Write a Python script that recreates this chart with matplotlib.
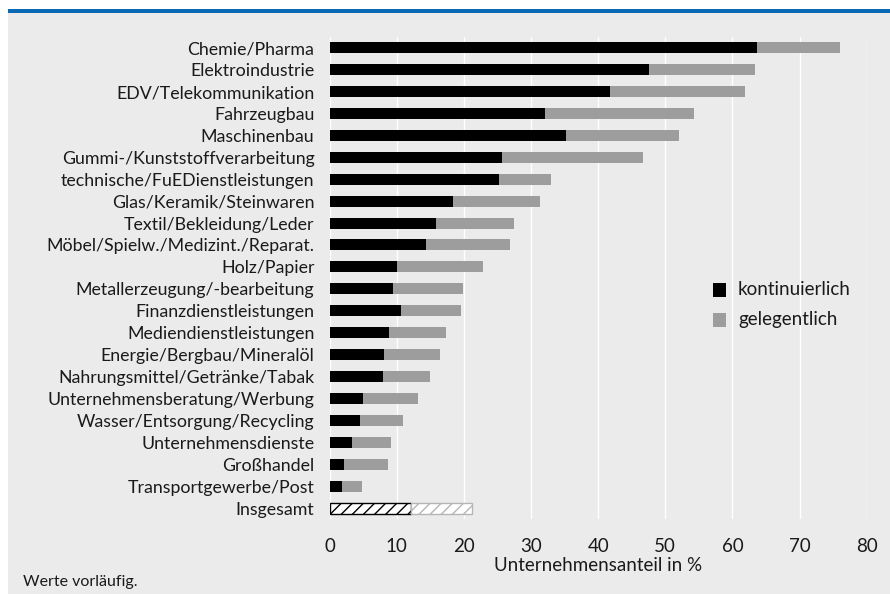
import matplotlib
matplotlib.use("Agg")
import matplotlib.pyplot as plt
import numpy as np
from matplotlib.patches import Rectangle

plt.rcParams['font.family'] = ['Lato', 'DejaVu Sans']
plt.rcParams['hatch.linewidth'] = 1.0

# Branchen (von oben nach unten)
categories = [
    "Chemie/Pharma", "Elektroindustrie", "EDV/Telekommunikation", "Fahrzeugbau",
    "Maschinenbau", "Gummi-/Kunststoffverarbeitung", "technische/FuEDienstleistungen",
    "Glas/Keramik/Steinwaren", "Textil/Bekleidung/Leder",
    "Möbel/Spielw./Medizint./Reparat.", "Holz/Papier", "Metallerzeugung/-bearbeitung",
    "Finanzdienstleistungen", "Mediendienstleistungen", "Energie/Bergbau/Mineralöl",
    "Nahrungsmittel/Getränke/Tabak", "Unternehmensberatung/Werbung",
    "Wasser/Entsorgung/Recycling", "Unternehmensdienste", "Großhandel",
    "Transportgewerbe/Post", "Insgesamt",
]
kontinuierlich = [63.6, 47.5, 41.8, 32.1, 35.2, 25.6, 25.2, 18.3, 15.8, 14.4, 10.1,
                  9.5, 10.6, 8.9, 8.1, 7.9, 4.9, 4.5, 3.3, 2.1, 1.8, 12.1]
gelegentlich = [12.4, 15.8, 20.1, 22.1, 16.8, 21.1, 7.7, 13.1, 11.7, 12.5, 12.8,
                10.4, 8.9, 8.4, 8.3, 7.0, 8.2, 6.4, 5.9, 6.6, 3.0, 9.1]
x_ticks = [0, 10, 20, 30, 40, 50, 60, 70, 80]

BG = "#ebebeb"
BLACK = "#000000"
GREY = "#9c9d9c"
BLUE = "#0a69b4"
TXT = "#1a1a1a"
FS = 13.5

fig = plt.figure(figsize=(8.9, 5.94), dpi=100, facecolor="white")
# grauer Hintergrund und blaue Linie oben
fig.patches.append(Rectangle((8 / 890, 0), 1, 1 - 13 / 594, transform=fig.transFigure,
                             facecolor=BG, edgecolor="none", zorder=-2))
fig.patches.append(Rectangle((8 / 890, 1 - 13 / 594), 1, 4 / 594, transform=fig.transFigure,
                             facecolor=BLUE, edgecolor="none", zorder=-1))

ax = fig.add_axes([329.7 / 890, 1 - 519 / 594, 537 / 890, 482.3 / 594])
ax.set_facecolor(BG)

y = np.arange(len(categories))
n = len(categories) - 1
h = 0.5

# Branchen
ax.barh(y[:n], kontinuierlich[:n], height=h, color=BLACK, zorder=2)
ax.barh(y[:n], gelegentlich[:n], left=kontinuierlich[:n], height=h, color=GREY, zorder=2)
# Insgesamt (schraffiert)
ax.barh(y[n], kontinuierlich[n], height=h, facecolor="white", edgecolor=BLACK,
        hatch="///", linewidth=1.0, zorder=2)
ax.barh(y[n], gelegentlich[n], left=kontinuierlich[n], height=h, facecolor="white",
        edgecolor="#b5b5b5", hatch="///", linewidth=1.0, zorder=2)

ax.set_ylim(n + 0.5, -0.5)
ax.set_xlim(0, 80)
ax.set_xticks(x_ticks)
ax.set_yticks(y)
ax.set_yticklabels(categories)
ax.tick_params(axis="both", length=0, labelsize=FS, colors=TXT)
ax.tick_params(axis="y", pad=11, labelsize=12.8)
ax.tick_params(axis="x", pad=14)
ax.xaxis.grid(True, color="white", linewidth=1.0, zorder=0)
ax.set_axisbelow(True)
for s in ax.spines.values():
    s.set_visible(False)

ax.set_xlabel("Unternehmensanteil in %", fontsize=FS, color=TXT, labelpad=1)

# Legende
fig.patches.append(Rectangle((713 / 890, 1 - 297 / 594), 13 / 890, 14 / 594,
                             transform=fig.transFigure, facecolor=BLACK, edgecolor="none"))
fig.patches.append(Rectangle((713 / 890, 1 - 327 / 594), 13 / 890, 14 / 594,
                             transform=fig.transFigure, facecolor=GREY, edgecolor="none"))
fig.text(738 / 890, 1 - 289 / 594, "kontinuierlich", fontsize=FS, color=TXT, va="center")
fig.text(738 / 890, 1 - 319 / 594, "gelegentlich", fontsize=FS, color=TXT, va="center")

fig.text(23 / 890, 1 - 582 / 594, "Werte vorläufig.", fontsize=11.5, color=TXT, va="center")

fig.savefig("out.png", dpi=100, facecolor=fig.get_facecolor())
